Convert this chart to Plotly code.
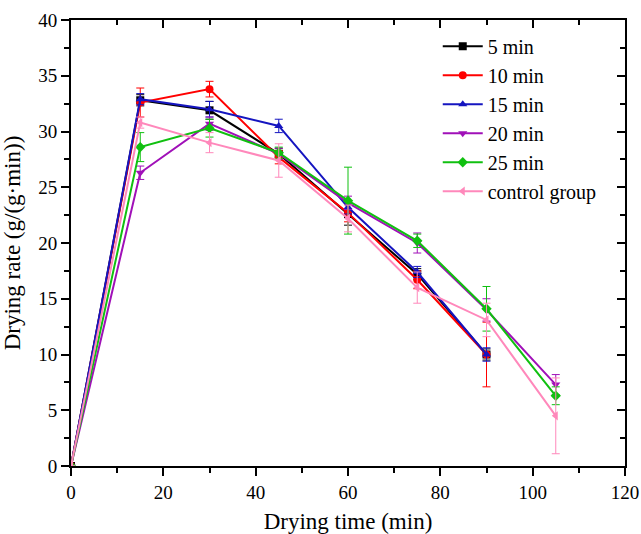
import plotly.graph_objects as go

t_short = [0, 15, 30, 45, 60, 75, 90]
t_long = [0, 15, 30, 45, 60, 75, 90, 105]

r5 = [0, 32.8, 31.9, 28.0, 22.6, 17.2, 10.0]
e5 = [0, 0.5, 0.8, 0.5, 1.0, 0.5, 0.5]
r10 = [0, 32.6, 33.8, 27.7, 22.7, 16.7, 10.0]
e10 = [0, 1.3, 0.7, 0.6, 0.8, 0.8, 2.9]
r15 = [0, 32.9, 32.0, 30.5, 23.2, 17.4, 10.0]
e15 = [0, 0.5, 0.7, 0.6, 0.6, 0.5, 0.6]
r20 = [0, 26.3, 30.7, 28.0, 23.6, 20.0, 14.0, 7.3]
e20 = [0, 0.6, 0.6, 0.5, 0.6, 0.9, 1.0, 0.9]
r25 = [0, 28.6, 30.3, 28.1, 23.8, 20.2, 14.1, 6.3]
e25 = [0, 1.3, 0.8, 0.5, 3.0, 0.6, 2.0, 0.8]
rc = [0, 30.8, 29.0, 27.4, 22.2, 16.0, 13.1, 4.5]
ec = [0, 0.5, 0.9, 1.5, 1.2, 1.4, 1.5, 3.4]

series = [
    ("5 min", t_short, r5, e5, "#000000", "square"),
    ("10 min", t_short, r10, e10, "#FF0000", "circle"),
    ("15 min", t_short, r15, e15, "#1515C0", "triangle-up"),
    ("20 min", t_long, r20, e20, "#A010B8", "triangle-down"),
    ("25 min", t_long, r25, e25, "#10C010", "diamond"),
    ("control group", t_long, rc, ec, "#FF88BB", "triangle-left"),
]

FONT = "Liberation Serif"

fig = go.Figure()
for name, x, y, e, col, sym in series:
    fig.add_trace(go.Scatter(
        x=x, y=y, name=name, mode="lines+markers",
        line=dict(color=col, width=2),
        marker=dict(color=col, symbol=sym, size=8),
        error_y=dict(type="data", array=e, visible=True, color=col, thickness=1, width=4),
    ))

# dummy trace for mirrored (inward) top/right ticks
fig.add_trace(go.Scatter(x=[None], y=[None], xaxis="x2", yaxis="y2", showlegend=False, hoverinfo="skip"))

axis_common = dict(showgrid=False, zeroline=False, showline=True, linecolor="black", linewidth=2,
                   tickcolor="black", tickwidth=2, ticklen=8, automargin=False,
                   tickfont=dict(family=FONT, size=19, color="black"))

fig.update_layout(
    width=641, height=534,
    margin=dict(l=71, r=16, t=20, b=68),
    paper_bgcolor="white", plot_bgcolor="white",
    font=dict(family=FONT, color="black"),
    xaxis=dict(range=[0, 120], dtick=20, ticks="outside",
               minor=dict(dtick=10, ticks="outside", ticklen=5, tickcolor="black", tickwidth=2),
               title=dict(text="Drying time (min)", font=dict(family=FONT, size=23)),
               **axis_common),
    yaxis=dict(range=[0, 40], dtick=5, ticks="outside",
               minor=dict(dtick=2.5, ticks="outside", ticklen=5, tickcolor="black", tickwidth=2),
               title=dict(text="Drying rate (g/(g·min))", font=dict(family=FONT, size=23)),
               **axis_common),
    xaxis2=dict(range=[0, 120], dtick=20, ticks="inside", overlaying="x", side="top",
                showticklabels=False, showgrid=False, zeroline=False, showline=True,
                linecolor="black", linewidth=2, tickcolor="black", tickwidth=2, ticklen=8,
                minor=dict(dtick=10, ticks="inside", ticklen=5, tickcolor="black", tickwidth=2)),
    yaxis2=dict(range=[0, 40], dtick=5, ticks="inside", overlaying="y", side="right",
                showticklabels=False, showgrid=False, zeroline=False, showline=True,
                linecolor="black", linewidth=2, tickcolor="black", tickwidth=2, ticklen=8,
                minor=dict(dtick=2.5, ticks="inside", ticklen=5, tickcolor="black", tickwidth=2)),
    legend=dict(x=0.662, y=0.985, xanchor="left", yanchor="top",
                font=dict(family=FONT, size=20, color="black"),
                bgcolor="rgba(0,0,0,0)", tracegroupgap=0, itemwidth=40),
)

fig.write_html("out.html")
